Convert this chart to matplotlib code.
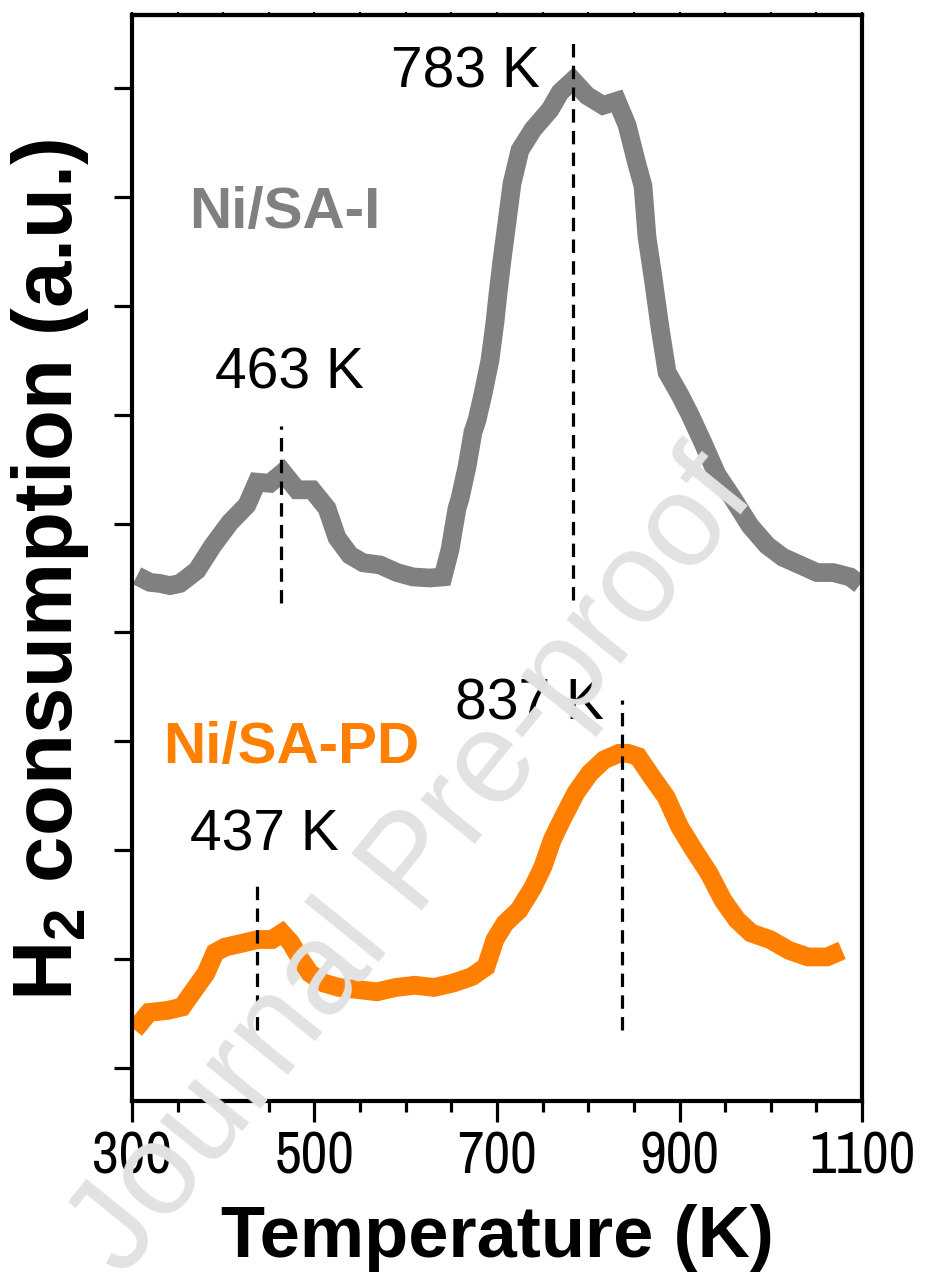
import matplotlib
matplotlib.use('Agg')
import matplotlib.pyplot as plt
from matplotlib import font_manager

# narrow face for the tick numbers if one is installed
names = sorted({f.name for f in font_manager.fontManager.ttflist})
narrow = [n for n in names if 'Narrow' in n or 'Condensed' in n]
if narrow:
    tick_font, tick_size = narrow[0], 42
else:
    tick_font, tick_size = 'Liberation Sans', 36

plt.rcParams['font.family'] = ['Liberation Sans', 'DejaVu Sans']
plt.rcParams['mathtext.fontset'] = 'custom'
plt.rcParams['mathtext.bf'] = 'Liberation Sans:bold'
plt.rcParams['mathtext.default'] = 'bf'

# Ni/SA-I (grey trace)
temp_i = [305.5, 319.7, 330.7, 341.6, 352.6, 371.2, 388.8, 407.4, 426.0, 437.0,
          451.2, 465.5, 480.8, 497.3, 513.7, 524.7, 538.9, 553.2, 571.8, 590.4,
          607.9, 626.6, 640.8, 648.5, 656.2, 659.5, 667.1, 673.7, 678.1, 684.7,
          692.3, 697.8, 701.1, 705.5, 711.0, 716.4, 725.2, 739.5, 758.1, 769.1,
          783.3, 798.6, 816.2, 831.5, 842.5, 853.4, 860.0, 864.4, 871.0, 878.6,
          886.3, 900.5, 911.5, 925.8, 941.1, 958.6, 977.3, 995.9, 1013.4, 1032.1,
          1050.7, 1068.2, 1086.9, 1097.8]
h2_i = [5.52, 5.46, 5.45, 5.43, 5.45, 5.57, 5.80, 6.01, 6.17, 6.38,
        6.37, 6.47, 6.31, 6.31, 6.14, 5.87, 5.71, 5.64, 5.62, 5.55,
        5.51, 5.50, 5.51, 5.76, 6.14, 6.23, 6.52, 6.84, 6.95, 7.19,
        7.50, 7.85, 8.11, 8.42, 8.77, 9.12, 9.43, 9.62, 9.80, 9.96,
        10.07, 9.93, 9.84, 9.88, 9.66, 9.30, 9.10, 8.63, 8.26, 7.80,
        7.39, 7.18, 7.00, 6.74, 6.45, 6.23, 5.98, 5.80, 5.69, 5.62,
        5.55, 5.55, 5.51, 5.44]

# Ni/SA-PD (orange trace)
temp_pd = [303.0, 318.6, 339.5, 354.8, 365.8, 381.1, 391.0, 401.9, 422.7, 438.1,
           453.4, 464.4, 474.2, 485.2, 495.1, 510.4, 526.9, 547.7, 568.5, 589.3,
           610.1, 631.0, 651.8, 672.6, 688.0, 697.8, 708.8, 724.1, 739.5, 750.4,
           760.3, 771.2, 786.6, 801.9, 817.3, 833.7, 843.6, 854.5, 869.9, 885.2,
           900.5, 915.9, 932.3, 947.7, 963.0, 978.4, 999.2, 1020.0, 1040.8, 1061.6,
           1078.1]
h2_pd = [1.35, 1.51, 1.53, 1.56, 1.69, 1.87, 2.06, 2.11, 2.15, 2.18,
         2.18, 2.24, 2.15, 1.99, 1.87, 1.78, 1.74, 1.72, 1.70, 1.74,
         1.76, 1.74, 1.78, 1.84, 1.93, 2.18, 2.33, 2.45, 2.66, 2.85,
         3.09, 3.28, 3.53, 3.71, 3.83, 3.89, 3.89, 3.86, 3.67, 3.49,
         3.21, 3.00, 2.79, 2.54, 2.36, 2.24, 2.18, 2.08, 2.02, 2.02,
         2.08]

# peak markers: temperature, dashed line bottom/top, label position
peak_temps = [463, 783, 437, 837]
peak_lo = [5.27, 5.30, 1.35, 1.35]
peak_hi = [6.90, 10.44, 2.73, 4.38]
peak_text_xy = [(473, 7.24), (665, 10.0), (445, 3.00), (736, 4.20)]

fig = plt.figure(figsize=(9.3, 12.73), dpi=100)
ax = fig.add_axes([0.1419, 0.1351, 0.785, 0.8531])

ax.plot(temp_i, h2_i, color='#808080', lw=13.5, solid_joinstyle='miter', solid_capstyle='butt')
ax.plot(temp_pd, h2_pd, color='#ff8000', lw=13.5, solid_joinstyle='miter', solid_capstyle='butt')

for t, lo, hi, (tx, ty) in zip(peak_temps, peak_lo, peak_hi, peak_text_xy):
    ax.plot([t, t], [lo, hi], color='black', lw=2.3, dashes=(4.2, 2.6))
    ax.text(tx, ty, '%d K' % t, fontsize=41, ha='center', va='baseline')

ax.text(467, 8.71, 'Ni/SA-I', color='#808080', fontsize=42, fontweight='bold',
        ha='center', va='baseline')
ax.text(474, 3.80, 'Ni/SA-PD', color='#ff8000', fontsize=42, fontweight='bold',
        ha='center', va='baseline')

ax.set_xlim(300, 1100)
ax.set_ylim(0.697, 10.67)
ax.set_xticks([300, 500, 700, 900, 1100])
ax.set_xticks(range(300, 1101, 50), minor=True)
ax.set_yticks(range(1, 11))
ax.set_yticklabels([])
for lab in ax.get_xticklabels():
    lab.set_family([tick_font, 'DejaVu Sans'])
    lab.set_fontsize(tick_size)
ax.tick_params(axis='x', which='major', direction='out', length=15, width=2.3, pad=6)
ax.tick_params(axis='x', which='minor', direction='out', length=8, width=2.3)
ax.tick_params(axis='y', which='major', direction='out', length=13, width=2.3)
for s in ax.spines.values():
    s.set_linewidth(3)

top = ax.secondary_xaxis('top')
top.set_xticks(range(300, 1101, 50))
top.set_xticklabels([])
top.tick_params(direction='out', length=2, width=1.5)
top.spines['top'].set_linewidth(3)

ax.set_xlabel('Temperature (K)', fontsize=52, fontweight='bold')
ax.xaxis.set_label_coords(0.5, -0.1436)
ax.xaxis.label.set_va('baseline')

fig.text(72 / 930, 1 - 570 / 1273, 'H$_2$ consumption (a.u.)', fontsize=60,
         fontweight='bold', rotation=90, rotation_mode='anchor',
         ha='center', va='baseline')

fig.text(0.474, 0.303, 'Journal Pre-proof', fontsize=94, color='#e2e2e2',
         rotation=51, rotation_mode='anchor', ha='center', va='baseline', zorder=10)

fig.savefig('out.png', dpi=100)
